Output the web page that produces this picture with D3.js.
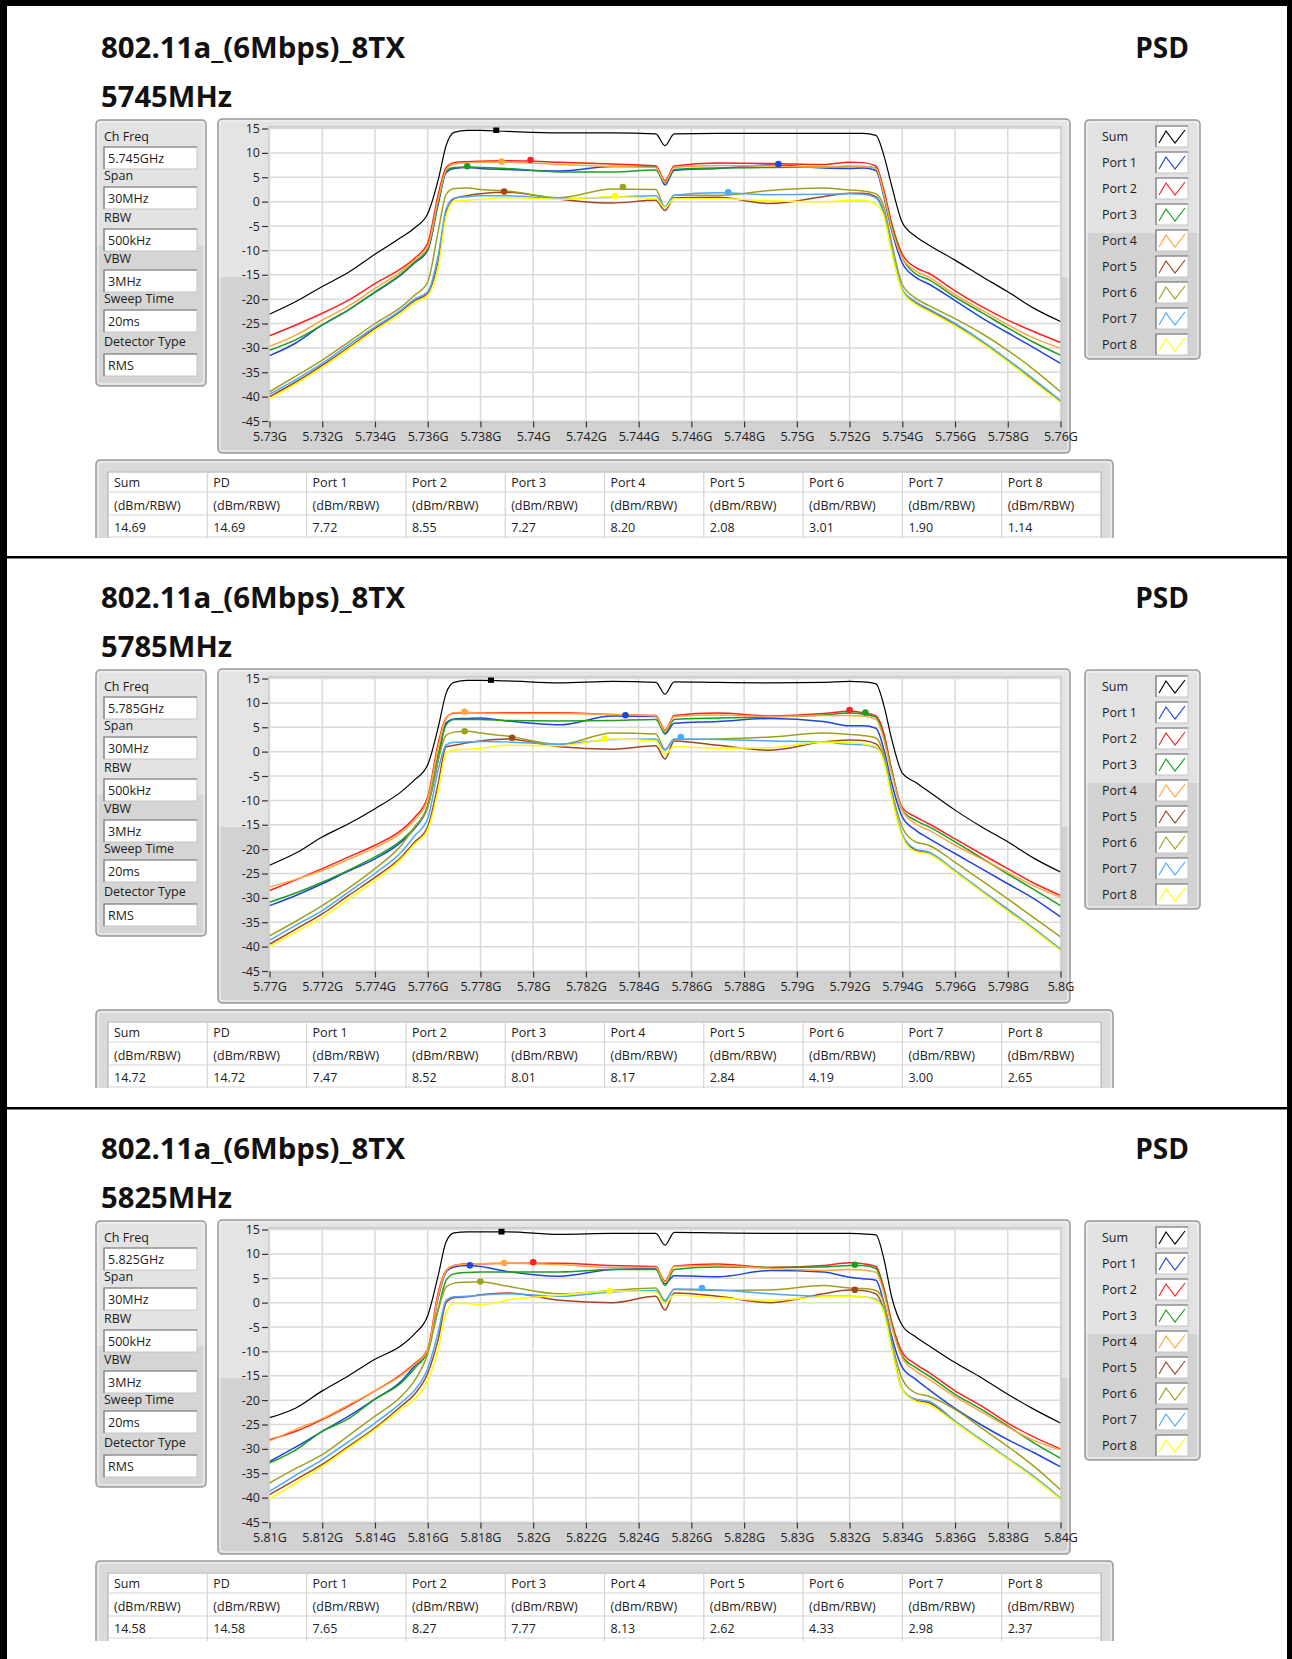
<!DOCTYPE html>
<html><head><meta charset="utf-8">
<script src="https://cdn.jsdelivr.net/npm/d3@7"></script>
<style>
html,body{margin:0;padding:0;background:#fff;}
svg{display:block;font-family:"Open Sans","Noto Sans",sans-serif;}
</style></head><body>
<svg id="c" width="1292" height="1659"></svg>
<script>
// ---------------- DATA ----------------
// frequency offsets from channel centre (MHz) at which the traces were read
const freqOffsetMHz = [-15,-14,-13,-12,-11,-10,-9.5,-9,-8.6,-8.3,-8,-7.5,-7,-6,-4,-2,-0.35,0,0.35,2,4,6,7,7.5,8,8.3,8.6,9,9.5,10,11,12,13,14,15];
const seriesNames = ["Sum","Port 1","Port 2","Port 3","Port 4","Port 5","Port 6","Port 7","Port 8"];
const tableHeaders = ["Sum","PD","Port 1","Port 2","Port 3","Port 4","Port 5","Port 6","Port 7","Port 8"];
const tableUnit = "(dBm/RBW)";
const settingLabels = ["Ch Freq","Span","RBW","VBW","Sweep Time","Detector Type"];
const yTicks = [15,10,5,0,-5,-10,-15,-20,-25,-30,-35,-40,-45];

// ---- 5745 MHz ----
const settings5745 = ["5.745GHz","30MHz","500kHz","3MHz","20ms","RMS"];
const xTicks5745 = ["5.73G","5.732G","5.734G","5.736G","5.738G","5.74G","5.742G","5.744G","5.746G","5.748G","5.75G","5.752G","5.754G","5.756G","5.758G","5.76G"];
const sum5745 = [-23.1,-20.5,-17.4,-14.5,-10.8,-7.3,-5.4,-2.5,4.5,11.5,14.2,14.6,14.6,14.4,14.1,14.1,13.9,11.5,13.9,14.0,14.0,14.0,14.0,14.0,13.6,9.5,3.2,-4.3,-7.1,-8.9,-12.0,-15.3,-18.5,-21.9,-24.6];
const p1_5745 = [-31.6,-29.0,-25.3,-22.2,-18.6,-15.0,-12.6,-10.0,-0.5,6.0,6.8,7.0,6.8,6.6,6.3,7.2,7.2,3.4,6.4,6.8,7.5,6.9,6.8,6.9,6.4,1.0,-6.0,-12.6,-15.5,-16.9,-20.3,-23.8,-26.9,-30.0,-33.2];
const p2_5745 = [-27.5,-25.3,-22.9,-20.2,-16.8,-13.7,-11.6,-8.5,1.5,7.0,8.0,8.2,8.3,8.4,8.1,7.7,7.3,4.3,7.3,7.9,7.8,7.6,8.1,8.0,7.3,2.4,-4.5,-10.8,-13.5,-14.7,-18.3,-21.5,-24.3,-26.7,-28.9];
const p3_5745 = [-30.5,-28.3,-25.3,-22.2,-18.5,-14.8,-12.4,-9.8,0.0,6.3,7.0,7.1,7.0,6.8,6.1,6.1,6.5,3.8,6.6,6.9,7.0,7.1,7.2,7.2,6.9,1.5,-5.0,-11.5,-14.8,-16.0,-19.6,-22.7,-25.9,-28.9,-31.5];
const p4_5745 = [-29.7,-27.4,-24.3,-21.4,-17.8,-14.3,-12.0,-9.3,0.5,6.5,7.7,8.0,8.1,8.1,7.6,7.2,7.0,4.0,7.0,7.4,7.3,7.1,7.3,7.2,6.8,1.5,-5.5,-11.5,-14.2,-15.5,-19.1,-22.2,-25.3,-28.0,-30.1];
const p5_5745 = [-40.0,-37.0,-33.6,-29.9,-26.0,-22.4,-20.3,-18.8,-12.0,-2.0,0.6,1.2,1.6,1.9,0.5,-0.3,0.3,-1.8,0.8,0.9,-0.4,1.0,1.7,1.7,1.0,-2.3,-10.0,-18.2,-20.8,-22.2,-25.2,-28.7,-32.6,-36.8,-41.0];
const p6_5745 = [-39.0,-35.8,-32.5,-28.8,-25.0,-21.6,-19.2,-16.5,-6.0,1.5,2.7,2.8,2.5,2.2,0.8,2.6,2.5,-1.2,1.3,1.3,2.3,2.8,2.4,2.2,1.6,-1.0,-8.5,-17.0,-19.8,-21.3,-24.0,-27.0,-30.5,-34.5,-39.0];
const p7_5745 = [-39.5,-36.5,-33.2,-29.4,-25.7,-22.2,-20.0,-18.5,-11.0,-1.5,0.7,1.0,1.2,1.2,0.6,0.9,1.2,-1.0,1.3,1.8,1.4,1.5,1.6,1.5,0.8,-2.5,-10.0,-18.0,-20.5,-22.0,-25.0,-28.5,-32.4,-36.5,-40.8];
const p8_5745 = [-40.5,-37.4,-34.0,-30.2,-26.4,-22.9,-20.8,-19.3,-13.5,-3.0,0.1,0.3,0.5,0.8,0.5,1.0,0.6,-1.2,0.6,0.6,0.2,0.0,0.3,0.3,-0.5,-3.0,-10.5,-18.4,-21.0,-22.5,-25.5,-28.9,-32.8,-37.0,-41.2];
const peakGHz5745 = [5.7386,5.7493,5.7399,5.7375,5.7388,5.7389,5.7434,5.7474,5.7431];
const table5745 = [14.69,14.69,7.72,8.55,7.27,8.20,2.08,3.01,1.90,1.14];

// ---- 5785 MHz ----
const settings5785 = ["5.785GHz","30MHz","500kHz","3MHz","20ms","RMS"];
const xTicks5785 = ["5.77G","5.772G","5.774G","5.776G","5.778G","5.78G","5.782G","5.784G","5.786G","5.788G","5.79G","5.792G","5.794G","5.796G","5.798G","5.8G"];
const sum5785 = [-23.3,-20.8,-17.5,-14.8,-11.7,-8.2,-5.8,-2.7,5.0,12.0,14.2,14.6,14.6,14.5,14.1,14.4,14.2,11.8,14.3,14.2,14.1,14.2,14.4,14.3,13.9,9.5,2.5,-4.4,-6.3,-8.2,-12.0,-15.4,-18.5,-21.9,-24.7];
const p1_5785 = [-31.6,-29.5,-27.1,-24.5,-22.0,-18.5,-15.8,-11.3,-1.7,5.9,6.7,6.8,6.9,6.3,5.5,7.3,7.2,3.6,5.8,6.2,6.8,6.2,5.3,5.3,4.8,0.5,-6.5,-13.4,-16.1,-17.8,-20.9,-24.0,-27.1,-30.2,-33.9];
const p2_5785 = [-28.5,-26.3,-24.0,-21.6,-19.2,-16.1,-13.5,-9.3,1.8,6.9,7.9,8.0,8.0,8.0,8.0,7.6,7.4,4.4,7.4,7.9,7.3,7.8,8.3,8.0,7.3,3.8,-3.8,-11.5,-13.4,-14.8,-17.9,-21.0,-24.0,-27.0,-29.5];
const p3_5785 = [-30.9,-29.0,-26.8,-24.3,-21.6,-18.2,-15.5,-11.0,-0.5,5.5,6.6,6.6,6.6,6.4,6.3,6.4,6.6,3.8,6.6,6.9,7.1,7.5,7.9,7.7,7.1,3.0,-4.0,-12.0,-14.1,-15.4,-18.5,-21.8,-25.1,-28.3,-31.6];
const p4_5785 = [-27.8,-26.2,-24.4,-22.1,-19.7,-16.6,-14.0,-9.8,1.0,6.8,8.0,8.1,7.9,7.8,7.8,7.6,7.3,4.2,7.2,7.5,7.2,7.4,7.4,7.3,6.6,2.5,-4.5,-12.0,-14.8,-16.1,-19.2,-22.0,-24.8,-27.6,-29.9];
const p5_5785 = [-39.5,-36.4,-33.3,-29.5,-25.8,-21.6,-18.6,-15.4,-6.5,1.0,1.3,1.8,2.2,2.6,1.0,0.5,1.2,-1.5,2.2,1.3,0.3,2.0,2.4,2.3,1.6,-1.5,-9.0,-17.2,-20.2,-20.8,-24.5,-28.6,-32.4,-36.4,-40.6];
const p6_5785 = [-37.8,-34.8,-31.6,-28.0,-24.0,-19.2,-15.5,-11.3,-1.7,3.4,4.0,4.2,3.8,3.2,1.5,3.8,3.6,0.5,2.5,2.6,3.0,3.8,3.5,3.3,2.8,-0.5,-8.0,-15.5,-18.5,-19.2,-22.7,-26.4,-30.2,-34.1,-38.0];
const p7_5785 = [-38.7,-35.6,-32.6,-28.8,-25.0,-20.6,-17.3,-13.7,-3.7,1.4,1.9,2.0,2.1,2.0,1.5,2.5,2.6,0.3,2.6,2.5,2.2,2.0,1.5,1.4,0.8,-1.5,-9.0,-17.0,-20.0,-20.6,-24.4,-28.4,-32.3,-36.3,-40.5];
const p8_5785 = [-40.0,-37.0,-34.0,-30.2,-26.4,-22.0,-19.0,-16.1,-7.9,-0.3,0.4,0.5,0.7,1.3,1.2,2.6,2.2,-0.5,1.0,0.7,0.8,2.0,1.8,1.6,1.0,-2.0,-9.5,-17.5,-20.5,-21.0,-24.7,-28.7,-32.7,-36.6,-40.8];
const peakGHz5785 = [5.7784,5.7835,5.7920,5.7926,5.7774,5.7792,5.7774,5.7856,5.7827];
const table5785 = [14.72,14.72,7.47,8.52,8.01,8.17,2.84,4.19,3.00,2.65];

// ---- 5825 MHz ----
const settings5825 = ["5.825GHz","30MHz","500kHz","3MHz","20ms","RMS"];
const xTicks5825 = ["5.81G","5.812G","5.814G","5.816G","5.818G","5.82G","5.822G","5.824G","5.826G","5.828G","5.83G","5.832G","5.834G","5.836G","5.838G","5.84G"];
const sum5825 = [-23.6,-21.6,-18.1,-15.0,-11.6,-8.8,-6.4,-2.7,5.6,12.5,14.3,14.5,14.5,14.5,14.0,14.2,14.2,11.8,14.4,14.3,14.2,14.2,14.2,14.1,13.9,9.0,1.1,-4.7,-7.0,-8.8,-12.3,-15.4,-18.8,-21.9,-24.7];
const p1_5825 = [-32.6,-29.6,-26.4,-23.3,-19.8,-16.1,-13.0,-9.9,1.1,6.3,7.3,7.6,7.4,6.4,5.4,6.8,7.0,3.9,5.5,5.3,6.6,6.3,5.2,4.9,4.6,0.0,-7.0,-13.3,-15.7,-17.8,-21.7,-25.1,-28.1,-30.8,-33.7];
const p2_5825 = [-28.1,-26.4,-24.0,-21.2,-18.1,-14.7,-12.5,-9.5,2.1,6.6,7.6,8.0,8.0,8.1,8.1,7.6,7.4,4.4,7.5,7.9,7.2,7.6,8.2,8.0,7.4,3.0,-4.0,-10.2,-12.6,-14.3,-18.1,-21.2,-24.7,-27.6,-30.0];
const p3_5825 = [-32.9,-30.2,-26.4,-23.8,-19.8,-16.4,-13.5,-9.9,-1.3,4.6,5.9,6.2,6.3,6.3,6.3,6.8,6.8,3.5,6.8,7.3,7.2,7.3,7.6,7.6,7.0,2.5,-4.5,-11.0,-13.3,-15.0,-18.8,-21.9,-25.3,-28.8,-31.9];
const p4_5825 = [-28.4,-26.0,-23.8,-21.0,-18.1,-14.9,-12.7,-9.7,1.5,6.5,7.6,7.9,8.0,8.1,7.8,7.2,7.2,4.2,7.4,7.6,7.0,6.6,6.8,6.7,6.2,2.0,-5.0,-11.3,-14.0,-15.7,-19.3,-22.4,-25.5,-28.3,-30.2];
const p5_5825 = [-39.4,-36.3,-33.2,-29.5,-25.7,-21.2,-18.8,-14.5,-7.5,0.0,1.0,1.2,1.6,2.0,0.5,0.0,1.3,-1.5,2.0,1.3,0.0,1.8,2.6,2.5,1.8,-1.5,-9.0,-17.8,-20.0,-20.5,-24.5,-28.3,-32.0,-35.8,-40.2];
const p6_5825 = [-37.0,-34.0,-31.2,-27.3,-23.3,-19.2,-16.0,-10.5,-1.5,3.2,4.0,4.2,4.3,3.4,1.8,2.5,3.0,0.5,2.7,2.5,2.6,3.5,3.0,2.9,2.5,0.0,-8.0,-15.7,-18.5,-19.2,-21.9,-25.7,-29.5,-33.6,-38.4];
const p7_5825 = [-38.7,-35.4,-32.2,-28.5,-24.7,-20.5,-18.0,-13.5,-6.0,0.5,1.2,1.3,1.5,1.8,1.3,2.2,2.5,0.2,2.8,2.6,1.8,1.3,1.3,1.2,0.7,-1.5,-9.0,-17.8,-19.8,-20.2,-24.3,-28.1,-31.9,-35.7,-40.1];
const p8_5825 = [-40.3,-37.0,-33.6,-29.8,-26.0,-21.8,-19.8,-16.0,-9.5,-2.0,-0.2,-0.2,-0.5,0.5,1.5,2.4,2.2,-0.2,1.5,1.0,0.5,1.2,1.3,1.2,0.5,-2.0,-9.5,-17.9,-20.2,-20.9,-24.6,-28.4,-32.1,-36.0,-40.3];
const peakGHz5825 = [5.8188,5.8176,5.8200,5.8322,5.8189,5.8322,5.8180,5.8264,5.8229];
const table5825 = [14.58,14.58,7.65,8.27,7.77,8.13,2.62,4.33,2.98,2.37];

// ---------------- STYLE ----------------
const seriesColors = ["#000000","#1f45e0","#ff2020","#1d9e1d","#ffa53c","#a2461e","#a0a020","#4aa8ff","#ffff00"];
const W = 1292, H = 1659;
const textColor = "#1c1c1c";

const panels = [
  {dy:0,    center:5745, freqLabel:"5745MHz", settings:settings5745, ticks:xTicks5745, series:[sum5745,p1_5745,p2_5745,p3_5745,p4_5745,p5_5745,p6_5745,p7_5745,p8_5745], peaks:peakGHz5745, table:table5745, clipH:538},
  {dy:550,  center:5785, freqLabel:"5785MHz", settings:settings5785, ticks:xTicks5785, series:[sum5785,p1_5785,p2_5785,p3_5785,p4_5785,p5_5785,p6_5785,p7_5785,p8_5785], peaks:peakGHz5785, table:table5785, clipH:538},
  {dy:1101, center:5825, freqLabel:"5825MHz", settings:settings5825, ticks:xTicks5825, series:[sum5825,p1_5825,p2_5825,p3_5825,p4_5825,p5_5825,p6_5825,p7_5825,p8_5825], peaks:peakGHz5825, table:table5825, clipH:540}
];

const svg = d3.select("#c");
svg.append("rect").attr("width",W).attr("height",H).attr("fill","#fff");
const defs = svg.append("defs");

function splitGrad(id, y0, y1, split, light, dark){
  const gr = defs.append("linearGradient").attr("id",id).attr("gradientUnits","userSpaceOnUse")
    .attr("x1",0).attr("x2",0).attr("y1",y0).attr("y2",y1);
  const t = (split-y0)/(y1-y0);
  gr.append("stop").attr("offset",0).attr("stop-color",light);
  gr.append("stop").attr("offset",t).attr("stop-color",light);
  gr.append("stop").attr("offset",t).attr("stop-color",dark);
  gr.append("stop").attr("offset",1).attr("stop-color",dark);
}
splitGrad("gSet",120,386,245,"#e3e3e3","#d5d5d5");
splitGrad("gPlot",119,453,277,"#e4e4e4","#d2d2d2");
splitGrad("gLeg",120,359,233,"#e2e2e2","#d2d2d2");
splitGrad("gTab",460,560,540,"#dadada","#dadada");

function frame(parent,x,y,w,h,fill){
  parent.append("rect").attr("x",x).attr("y",y).attr("width",w).attr("height",h).attr("rx",4)
    .attr("fill",fill).attr("stroke","#9a9a9a").attr("stroke-width",1.5);
  parent.append("rect").attr("x",x+2).attr("y",y+2).attr("width",w-4).attr("height",h-4).attr("rx",3)
    .attr("fill","none").attr("stroke","#f4f4f4").attr("stroke-width",1);
}
function inset(parent,x,y,w,h){
  parent.append("rect").attr("x",x).attr("y",y).attr("width",w).attr("height",h).attr("fill","#fff")
    .attr("stroke","#c4c4c4").attr("stroke-width",1);
  parent.append("path").attr("d",`M${x},${y+h} V${y} H${x+w}`).attr("fill","none")
    .attr("stroke","#777").attr("stroke-width",1.2);
}

function drawPanel(p){
  const g = svg.append("g").attr("transform",`translate(0,${p.dy})`);
  const cid = "clip"+p.center;
  defs.append("clipPath").attr("id",cid).append("rect").attr("x",0).attr("y",0).attr("width",W).attr("height",p.clipH);
  const root = g.append("g").attr("clip-path",`url(#${cid})`);

  // titles
  root.append("text").attr("x",101).attr("y",58).attr("font-size",28).attr("font-weight",700)
    .attr("fill","#111").attr("textLength",304).attr("lengthAdjust","spacingAndGlyphs").text("802.11a_(6Mbps)_8TX");
  root.append("text").attr("x",1189).attr("y",58).attr("font-size",28).attr("font-weight",700)
    .attr("text-anchor","end").attr("fill","#111").text("PSD");
  root.append("text").attr("x",101).attr("y",107).attr("font-size",28).attr("font-weight",700)
    .attr("fill","#111").attr("textLength",131).attr("lengthAdjust","spacingAndGlyphs").text(p.freqLabel);

  // settings panel
  frame(root,96,120,110,266,"url(#gSet)");
  const labY = [141,180,222,263,303,346];
  const boxY = [147,187,229,270,310,354];
  settingLabels.forEach((l,i)=>{
    inset(root,104,boxY[i],93,22);
    root.append("text").attr("x",104).attr("y",labY[i]).attr("font-size",12.5).attr("fill",textColor).text(l);
    root.append("text").attr("x",108).attr("y",boxY[i]+16).attr("font-size",12.5).attr("fill",textColor).text(p.settings[i]);
  });

  // plot frame
  frame(root,218,119,852,334,"url(#gPlot)");
  const x0 = (p.center-15)/1000, x1 = (p.center+15)/1000;
  const x = d3.scaleLinear().domain([x0,x1]).range([269.5,1060.5]);
  const y = d3.scaleLinear().domain([-45,15]).range([421,128.5]);
  root.append("rect").attr("x",269).attr("y",127).attr("width",792).attr("height",295)
    .attr("fill","#fff").attr("stroke","#adadad").attr("stroke-width",1);
  const tickVals = p.ticks.map((t,i)=>(p.center-15+2*i)/1000);
  const grid = root.append("g");
  grid.selectAll("line.v").data(tickVals).join("line").attr("class","v")
    .attr("x1",d=>x(d)).attr("x2",d=>x(d)).attr("y1",127.5).attr("y2",421.5)
    .attr("stroke","#dadada").attr("stroke-width",1.5);
  grid.selectAll("line.h").data(yTicks).join("line").attr("class","h")
    .attr("x1",269.5).attr("x2",1060.5).attr("y1",d=>y(d)).attr("y2",d=>y(d))
    .attr("stroke","#dadada").attr("stroke-width",1.5);

  const ya = root.append("g").attr("transform","translate(268,0)")
    .call(d3.axisLeft(y).tickValues(yTicks).tickSize(6).tickPadding(2).tickFormat(d=>String(d)));
  const xa = root.append("g").attr("transform","translate(0,421.5)")
    .call(d3.axisBottom(x).tickValues(tickVals).tickSize(6).tickPadding(5).tickFormat((d,i)=>p.ticks[i]));
  [ya,xa].forEach(a=>{
    a.select(".domain").remove();
    a.selectAll("line").attr("stroke","#333").attr("stroke-width",1.2);
    a.selectAll("text").attr("font-size",12.5).attr("fill",textColor).attr("font-family","'Open Sans','Noto Sans',sans-serif");
  });

  // traces
  defs.append("clipPath").attr("id","pc"+p.center).append("rect").attr("x",269.5).attr("y",127.5).attr("width",791).attr("height",294);
  const lines = root.append("g").attr("clip-path",`url(#pc${p.center})`);
  const line = d3.line().x(d=>x(d[0])).y(d=>y(d[1])).curve(d3.curveMonotoneX);
  p.series.forEach((arr,si)=>{
    const pts = freqOffsetMHz.map((f,k)=>[(p.center+f)/1000, arr[k]]);
    lines.append("path").attr("d",line(pts)).attr("fill","none")
      .attr("stroke",seriesColors[si]).attr("stroke-width",si===0?1.2:1.5).attr("stroke-linejoin","round");
  });
  // peak markers
  p.series.forEach((arr,si)=>{
    const v = si===0 ? p.table[0] : p.table[si+1];
    const cx = x(p.peaks[si]), cy = y(v);
    if(si===0){
      lines.append("rect").attr("x",cx-3).attr("y",cy-3).attr("width",6).attr("height",6).attr("fill","#000");
    } else {
      lines.append("circle").attr("cx",cx).attr("cy",cy).attr("r",3.3).attr("fill",seriesColors[si]);
    }
  });

  // legend
  frame(root,1085,120,115,239,"url(#gLeg)");
  seriesNames.forEach((n,i)=>{
    const cy = 136 + 26*i;
    root.append("text").attr("x",1102).attr("y",cy+5).attr("font-size",12.5).attr("fill",textColor).text(n);
    inset(root,1156,cy-10,32,21);
    root.append("polyline").attr("points",[[1159,cy+7],[1166,cy-5],[1175,cy+7],[1185,cy-6]].map(q=>q.join(",")).join(" "))
      .attr("fill","none").attr("stroke",seriesColors[i]).attr("stroke-width",1.2);
  });

  // results table
  frame(root,96,460,1017,110,"url(#gTab)");
  const colW = 99.3, tx0 = 108, rowY = [472,492,515,537];
  root.append("rect").attr("x",tx0).attr("y",472).attr("width",993).attr("height",90).attr("fill","#fff")
    .attr("stroke","#a8a8a8").attr("stroke-width",1);
  const tg = root.append("g");
  tg.selectAll("line.r").data(rowY).join("line").attr("class","r")
    .attr("x1",tx0).attr("x2",tx0+993).attr("y1",d=>d).attr("y2",d=>d).attr("stroke","#d4d4d4").attr("stroke-width",1.2);
  tg.selectAll("line.c").data(d3.range(1,10)).join("line").attr("class","c")
    .attr("x1",d=>tx0+d*colW).attr("x2",d=>tx0+d*colW).attr("y1",472).attr("y2",570).attr("stroke","#d4d4d4").attr("stroke-width",1.2);
  tableHeaders.forEach((h,i)=>{
    const tx = tx0 + i*colW + 6;
    tg.append("text").attr("x",tx).attr("y",487).attr("font-size",12.5).attr("fill",textColor).text(h);
    tg.append("text").attr("x",tx).attr("y",510).attr("font-size",12.5).attr("fill",textColor).text(tableUnit);
    tg.append("text").attr("x",tx).attr("y",532).attr("font-size",12.5).attr("fill",textColor).text(d3.format(".2f")(p.table[i]));
  });
}
panels.forEach(drawPanel);

// outer black borders / separators
const b = svg.append("g").attr("fill","#000");
b.append("rect").attr("x",0).attr("y",0).attr("width",W).attr("height",6);
b.append("rect").attr("x",0).attr("y",0).attr("width",7).attr("height",H);
b.append("rect").attr("x",W-5).attr("y",0).attr("width",5).attr("height",H);
b.append("rect").attr("x",0).attr("y",556).attr("width",W).attr("height",2.5);
b.append("rect").attr("x",0).attr("y",1107).attr("width",W).attr("height",2.5);
</script></body></html>
